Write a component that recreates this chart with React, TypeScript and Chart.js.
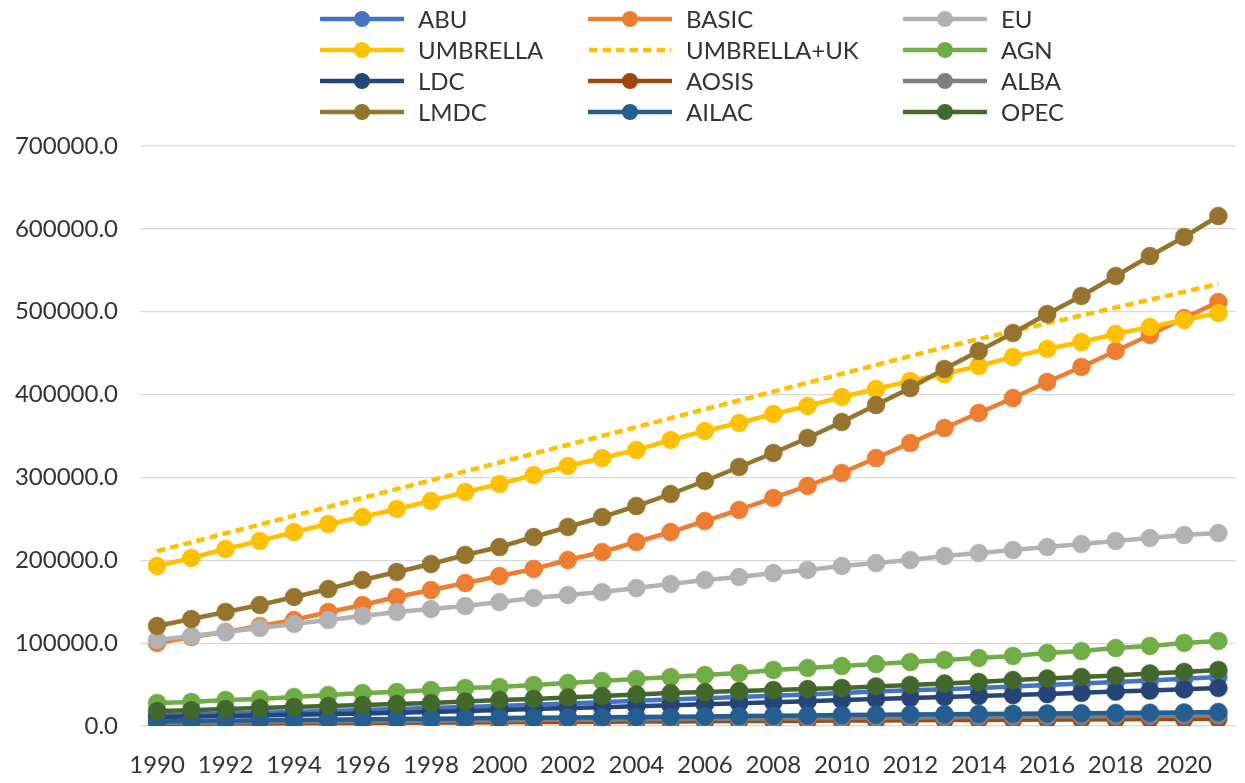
import React, { useEffect, useRef } from "react";
import { Chart, registerables } from "chart.js";

Chart.register(...registerables);

const years = [
  "1990", "1991", "1992", "1993", "1994", "1995", "1996", "1997", "1998", "1999",
  "2000", "2001", "2002", "2003", "2004", "2005", "2006", "2007", "2008", "2009",
  "2010", "2011", "2012", "2013", "2014", "2015", "2016", "2017", "2018", "2019",
  "2020", "2021",
];

const abu = [13300, 14000, 15000, 16000, 17000, 18200, 19400, 20500, 21700, 22900, 24100, 25600, 27200, 28800, 30400, 32000, 33600, 35000, 36500, 38100, 39800, 41500, 43000, 44500, 46000, 47700, 49500, 51300, 53100, 55000, 57000, 59100];
const basic = [100200, 107400, 113400, 120700, 127900, 137600, 146000, 155700, 164100, 172600, 181000, 189500, 200300, 210000, 222100, 234100, 247400, 260700, 275200, 289700, 305300, 323400, 341500, 359600, 377800, 395800, 415200, 433300, 452600, 471900, 492400, 511700];
const eu = [103800, 108600, 113400, 118300, 123100, 127900, 132800, 137600, 141200, 144800, 149600, 154500, 158100, 161700, 166500, 171400, 176200, 179800, 184600, 188300, 193100, 196700, 200300, 205200, 208800, 212400, 216000, 219600, 223300, 226900, 230500, 232900];
const umbrella = [193100, 202800, 213600, 223300, 234100, 243800, 252200, 261900, 271500, 282400, 292100, 302900, 313800, 323400, 333100, 345200, 356000, 365700, 376500, 386200, 397100, 406700, 416400, 424800, 434500, 445300, 455000, 463400, 473100, 481500, 490000, 498400];
const umbrellaUk = [211000, 221700, 232400, 243100, 253800, 264500, 275200, 285900, 296600, 307300, 318000, 328700, 339400, 350100, 360800, 371500, 382200, 392900, 403600, 414300, 425000, 435700, 446400, 457000, 467000, 476500, 486000, 495500, 505000, 514500, 524000, 533500];
const agn = [27800, 29000, 31400, 32600, 35000, 37400, 39800, 41000, 43400, 45900, 47100, 49500, 51900, 54300, 56700, 59100, 61600, 64000, 67600, 70000, 72400, 74800, 77200, 79700, 82100, 84500, 88100, 90500, 94100, 96600, 100200, 102600];
const ldc = [10900, 11500, 12100, 12700, 13500, 14300, 15100, 16000, 17000, 18100, 19300, 20400, 21600, 22700, 23900, 25100, 26300, 27500, 28700, 30000, 31400, 32600, 33800, 35000, 36200, 37400, 38600, 40000, 41500, 42800, 44300, 45900];
const aosis = [2500, 2700, 2900, 3100, 3300, 3500, 3700, 3900, 4100, 4300, 4500, 4700, 4900, 5100, 5300, 5500, 5700, 5900, 6100, 6300, 6500, 6700, 6900, 7100, 7300, 7500, 7700, 7900, 8100, 8300, 8400, 8600];
const alba = [3800, 4100, 4400, 4700, 5000, 5300, 5600, 5900, 6200, 6500, 6800, 7100, 7400, 7700, 8000, 8300, 8600, 8900, 9200, 9500, 9800, 10100, 10400, 10600, 10900, 11100, 11400, 11600, 11900, 12100, 12300, 12600];
const lmdc = [120700, 129100, 137600, 146000, 155700, 165300, 176200, 185900, 195500, 206400, 216000, 228100, 240200, 252200, 265500, 280000, 295700, 312600, 329500, 347600, 366900, 387400, 407900, 430900, 452600, 474300, 497200, 519000, 543100, 567200, 590200, 615500];
const ailac = [5500, 6000, 6400, 6800, 7200, 7600, 8000, 8400, 8800, 9200, 9700, 10000, 10400, 10700, 11000, 11300, 11600, 12000, 12400, 12800, 13300, 13600, 13900, 14200, 14500, 14800, 15100, 15400, 15700, 16000, 16400, 16900];
const opec = [18100, 19000, 20500, 21700, 22900, 24100, 25300, 26500, 27800, 29600, 31400, 32600, 34400, 36200, 38000, 39800, 41000, 42200, 43400, 44600, 45900, 47700, 49500, 51300, 53100, 55500, 57300, 59100, 61000, 63400, 65200, 67600];

const seriesNames = ["ABU", "BASIC", "EU", "UMBRELLA", "UMBRELLA+UK", "AGN", "LDC", "AOSIS", "ALBA", "LMDC", "AILAC", "OPEC"];
const seriesValues = [abu, basic, eu, umbrella, umbrellaUk, agn, ldc, aosis, alba, lmdc, ailac, opec];
const seriesColors = ["#4472C4", "#ED7D31", "#B2B2B4", "#FFC000", "#FFC000", "#70AD47", "#264478", "#9E480E", "#7F7F81", "#97742E", "#255E91", "#43682B"];
const seriesDashed = [false, false, false, false, true, false, false, false, false, false, false, false];

const yTicks = { min: 0, max: 700000, step: 100000 };

const FONT = "Lato, 'Noto Sans', sans-serif";
const TEXT = "#333333";

const legendCols = [320, 588, 903];
const legendRows = [19, 50, 81, 112];

function LegendItem({ i }: { i: number }) {
  const col = i % 3;
  const row = Math.floor(i / 3);
  const color = seriesColors[i];
  const dashed = seriesDashed[i];
  return (
    <div
      style={{
        position: "absolute",
        left: legendCols[col],
        top: legendRows[row] - 16,
        height: 32,
        display: "flex",
        alignItems: "center",
        whiteSpace: "nowrap",
      }}
    >
      <svg width={84} height={20} style={{ display: "block" }}>
        <line
          x1={1}
          y1={10}
          x2={83}
          y2={10}
          stroke={color}
          strokeWidth={4.5}
          strokeLinecap={dashed ? "butt" : "round"}
          strokeDasharray={dashed ? "8.5 5" : undefined}
        />
        {!dashed && <circle cx={42} cy={10} r={8} fill={color} />}
      </svg>
      <span
        style={{
          marginLeft: 14,
          fontFamily: FONT,
          fontSize: 24,
          color: TEXT,
          lineHeight: "32px",
        }}
      >
        {seriesNames[i]}
      </span>
    </div>
  );
}

export default function App() {
  const canvasRef = useRef<HTMLCanvasElement | null>(null);

  useEffect(() => {
    if (!canvasRef.current) return;
    const datasets = seriesNames.map((name, i) => ({
      label: name,
      data: seriesValues[i],
      borderColor: seriesColors[i],
      backgroundColor: seriesColors[i],
      borderWidth: 4.5,
      borderDash: seriesDashed[i] ? [8.5, 5] : [],
      borderCapStyle: "butt" as const,
      pointRadius: seriesDashed[i] ? 0 : 9,
      pointHoverRadius: seriesDashed[i] ? 0 : 9,
      pointBorderWidth: 0.5,
      pointBorderColor: seriesColors[i],
      pointBackgroundColor: seriesColors[i],
      tension: 0,
      fill: false,
      order: -i,
    }));

    const chart = new Chart(canvasRef.current, {
      type: "line",
      data: { labels: years, datasets },
      options: {
        animation: false,
        responsive: true,
        maintainAspectRatio: false,
        layout: { padding: { top: 146, left: 14, right: 2, bottom: 3 } },
        plugins: {
          legend: { display: false },
          tooltip: { enabled: false },
        },
        scales: {
          x: {
            type: "category",
            offset: true,
            grid: { display: false, drawTicks: false },
            border: { display: false },
            afterFit: (scale: any) => {
              scale.height = 54;
            },
            ticks: {
              autoSkip: false,
              maxRotation: 0,
              minRotation: 0,
              padding: 25,
              color: TEXT,
              font: { family: FONT, size: 24 },
              callback: (_v: any, idx: number) => (idx % 2 === 0 ? years[idx] : ""),
            },
          },
          y: {
            min: yTicks.min,
            max: yTicks.max,
            grid: { color: "#D9D9D9", lineWidth: 1.2, drawTicks: false },
            border: { display: false },
            afterFit: (scale: any) => {
              scale.width = 126;
            },
            ticks: {
              stepSize: yTicks.step,
              padding: 22,
              color: TEXT,
              font: { family: FONT, size: 24 },
              callback: (v: any) => Number(v).toFixed(1),
            },
          },
        },
      },
    });
    return () => chart.destroy();
  }, []);

  return (
    <div style={{ position: "absolute", left: 0, top: 0, width: 1245, height: 783, background: "#fff" }}>
      <canvas ref={canvasRef} />
      {seriesNames.map((_, i) => (
        <LegendItem key={i} i={i} />
      ))}
    </div>
  );
}
